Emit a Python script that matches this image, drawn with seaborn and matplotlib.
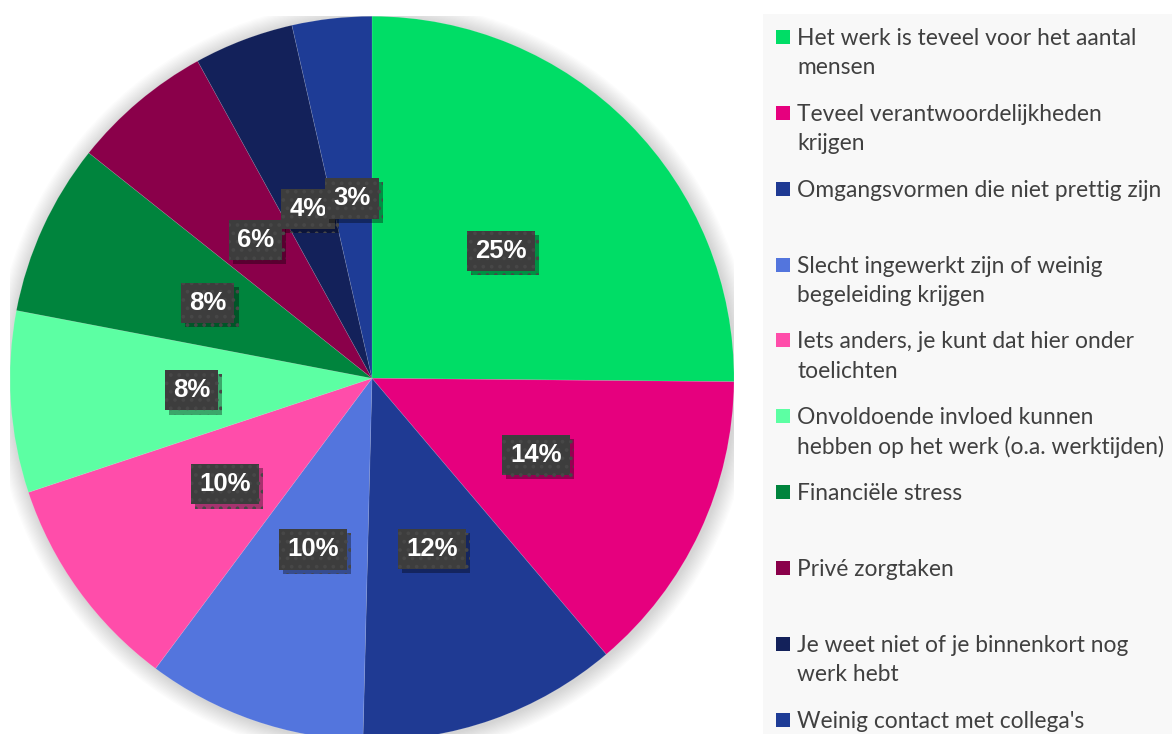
import matplotlib
matplotlib.use("Agg")
import matplotlib.pyplot as plt
import matplotlib.patheffects as pe
from matplotlib.patches import Circle, Rectangle
import seaborn as sns

# data
categories = [
    "Het werk is teveel voor het aantal\nmensen",
    "Teveel verantwoordelijkheden\nkrijgen",
    "Omgangsvormen die niet prettig zijn",
    "Slecht ingewerkt zijn of weinig\nbegeleiding krijgen",
    "Iets anders, je kunt dat hier onder\ntoelichten",
    "Onvoldoende invloed kunnen\nhebben op het werk (o.a. werktijden)",
    "Financiële stress",
    "Privé zorgtaken",
    "Je weet niet of je binnenkort nog\nwerk hebt",
    "Weinig contact met collega's",
]
shares = [25.15, 13.65, 11.6, 9.8, 9.7, 8.1, 7.7, 6.3, 4.45, 3.55]
pct_labels = ["25%", "14%", "12%", "10%", "10%", "8%", "8%", "6%", "4%", "3%"]
colors = ["#00dd66", "#e6007e", "#1f3a93", "#5375dd", "#ff4daa",
          "#5cffa3", "#00843d", "#8a004a", "#13215a", "#1e3c96"]

sns.set_theme(style="white")
plt.rcParams['font.family'] = ['Lato', 'DejaVu Sans']
plt.rcParams['hatch.linewidth'] = 1.5

W, H = 1172, 734
fig = plt.figure(figsize=(W / 100, H / 100), dpi=100)
fig.patch.set_facecolor("white")

# legend panel (pixel coordinates overlay)
bg = fig.add_axes([0, 0, 1, 1])
bg.set_xlim(0, W)
bg.set_ylim(H, 0)
bg.axis("off")
bg.add_patch(Rectangle((763, 14), W - 763, H - 14, facecolor="#f8f8f8", edgecolor="none"))

# pie
cx, cy, r = 372, 378.3, 362
ax = fig.add_axes([(cx - r) / W, (H - cy - r) / H, 2 * r / W, 2 * r / H])
ax.set_xlim(-1, 1)
ax.set_ylim(-1, 1)
ax.set_aspect("equal")
ax.axis("off")

# soft shadow round the pie
for k in range(14):
    ax.add_patch(Circle((0.004, -0.004), 1.0 + 0.0035 * (14 - k), facecolor="black",
                        edgecolor="none", alpha=0.012, zorder=0))

lab_iter = iter(pct_labels)
wedges, texts, autotexts = ax.pie(
    shares, colors=colors, startangle=90, counterclock=False, radius=1,
    autopct=lambda p: next(lab_iter), pctdistance=0.5,
    wedgeprops=dict(linewidth=0.5, edgecolor=(1, 1, 1, 0.15)),
    textprops=dict(color="white", fontsize=18.5, fontweight="bold",
                   family=["Liberation Sans", "DejaVu Sans"]),
)
ax.set_xlim(-1, 1)
ax.set_ylim(-1, 1)
for t in autotexts:
    t.set_bbox(dict(boxstyle="square,pad=0.32", facecolor="#3d3d3d",
                    edgecolor="#474747", linewidth=0, hatch=".."))
    t.get_bbox_patch().set_path_effects([
        pe.SimplePatchShadow(offset=(3, -3), shadow_rgbFace="black", alpha=0.35),
        pe.Normal(),
    ])
    t.set_zorder(5)

# legend entries
y0, step, line_h = 37, 75.85, 29.5
for i, (lab, col) in enumerate(zip(categories, colors)):
    yc = y0 + i * step
    bg.add_patch(Rectangle((776, yc - 7), 14, 14, facecolor=col, edgecolor="none"))
    for j, line in enumerate(lab.split("\n")):
        bg.text(797, yc + j * line_h + 8, line, fontsize=16.4, color="#404040",
                va="baseline", ha="left")

fig.savefig("out.png", dpi=100, facecolor="white")
